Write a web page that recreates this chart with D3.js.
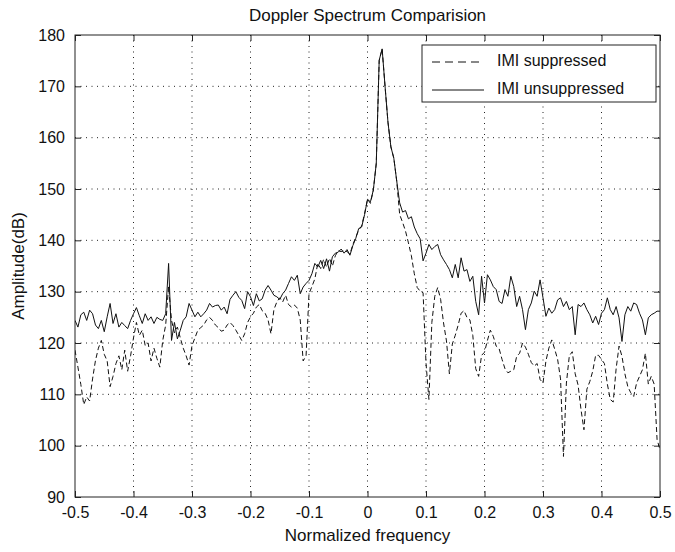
<!DOCTYPE html>
<html>
<head>
<meta charset="utf-8">
<script src="https://cdn.jsdelivr.net/npm/d3@7"></script>
<style>
  body { margin: 0; background: #fff; }
  svg { display: block; }
  text { font-family: "Liberation Sans", Arial, sans-serif; fill: #111; }
</style>
</head>
<body>
<div id="chart"></div>
<script>
var freqStart = -0.5, freqStep = 0.005;

var unsuppressed = [
  124.4,123.1,125.5,126.0,124.4,126.4,125.7,123.5,122.8,124.4,
  122.2,125.1,127.7,123.8,125.7,123.1,124.0,123.4,122.8,124.4,
  125.7,126.9,125.3,123.8,125.7,124.4,125.1,123.8,125.0,124.6,
  124.4,125.7,135.5,120.5,124.0,120.8,122.5,124.4,125.1,127.7,
  126.4,125.1,126.0,125.1,125.7,126.4,127.7,127.0,127.3,127.4,
  126.4,127.0,125.7,128.5,129.3,130.0,128.9,128.3,126.7,130.0,
  129.0,127.3,129.6,128.2,128.6,130.3,131.2,130.3,129.3,129.0,
  128.5,129.6,130.3,131.6,132.9,132.2,133.2,129.6,130.9,131.6,
  132.2,133.5,135.5,134.8,136.1,134.5,136.4,134.0,136.8,137.5,
  137.7,138.3,137.5,138.2,137.1,139.0,140.4,142.3,142.6,145.0,
  148.0,147.5,149.8,155.0,175.1,177.3,170.0,163.0,158.2,156.0,
  151.5,147.3,145.5,145.8,144.2,144.6,142.6,141.3,140.3,136.0,
  137.5,139.2,138.2,138.8,139.2,137.2,136.2,135.3,134.3,132.7,
  135.3,132.7,136.6,134.0,134.3,132.0,133.0,128.1,125.5,133.0,
  127.8,133.3,132.3,131.0,130.4,128.1,127.7,130.4,129.1,133.0,
  131.0,127.1,129.1,126.5,122.6,126.5,127.8,130.1,129.1,132.3,
  128.8,125.2,126.8,125.8,126.5,128.4,128.8,127.1,128.1,126.5,
  127.1,121.6,127.5,127.1,127.8,126.5,125.5,123.9,125.2,123.6,
  125.8,126.5,128.8,126.5,125.5,127.1,124.9,120.3,125.5,127.1,
  126.2,127.8,127.5,125.8,124.5,121.6,124.9,125.5,125.8,126.2,126.2
];

var suppressed = [
  118.6,115.3,111.9,108.0,109.5,108.7,113.0,116.6,119.0,120.5,
  117.8,116.5,111.5,113.5,116.0,117.5,114.8,118.6,114.5,117.5,
  121.0,124.0,121.5,122.5,119.5,120.0,116.5,119.0,117.0,115.3,
  120.5,123.5,131.0,124.4,122.0,123.1,121.0,119.0,117.5,115.7,
  119.5,121.0,122.5,123.0,123.5,124.5,125.0,124.4,123.5,123.0,
  122.3,122.5,123.5,124.0,123.4,122.5,121.5,120.5,121.8,124.0,
  125.1,125.8,127.0,127.5,126.3,125.8,124.5,121.8,126.5,128.0,
  128.8,128.0,129.3,127.5,127.0,127.4,126.8,124.5,116.5,117.5,
  129.6,131.0,132.5,135.5,134.5,136.3,134.8,136.5,135.0,137.0,
  138.0,137.8,138.0,137.8,137.3,139.2,140.6,142.0,142.8,145.2,
  148.0,147.2,149.8,155.0,175.0,177.3,170.0,163.0,158.2,156.0,
  151.5,145.0,143.5,141.8,139.5,137.0,133.5,130.8,130.1,129.8,
  116.1,109.0,124.0,129.1,130.8,128.5,123.9,120.4,114.0,119.8,
  121.5,123.5,125.8,126.3,125.0,124.5,121.5,115.0,113.5,117.6,
  118.2,120.5,122.5,121.3,119.4,118.9,116.8,115.0,114.2,114.5,
  114.8,117.4,118.0,120.0,119.2,117.8,116.2,115.5,116.0,112.9,
  112.2,116.5,119.0,120.6,118.8,116.8,113.0,97.9,112.2,117.5,
  118.3,114.0,111.8,107.0,103.1,111.0,112.5,114.5,117.6,117.6,
  116.8,116.0,112.0,109.0,108.5,115.0,119.4,117.4,114.0,111.5,
  110.3,109.6,112.2,113.5,114.8,118.0,112.0,113.5,112.0,101.2,99.2
];

var xTicks = [-0.5,-0.4,-0.3,-0.2,-0.1,0,0.1,0.2,0.3,0.4,0.5];
var xTickLabels = ["-0.5","-0.4","-0.3","-0.2","-0.1","0","0.1","0.2","0.3","0.4","0.5"];
var yTicks = [90,100,110,120,130,140,150,160,170,180];

var seriesNames = ["IMI suppressed", "IMI unsuppressed"];

// size / margins
var W = 675, H = 552;
var margin = {top: 35, right: 15, bottom: 55, left: 75};
var w = W - margin.left - margin.right,
    h = H - margin.top - margin.bottom;

var svg = d3.select("#chart").append("svg")
  .attr("width", W).attr("height", H);

var g = svg.append("g")
  .attr("transform", "translate(" + margin.left + "," + margin.top + ")");

var x = d3.scaleLinear().domain([-0.5, 0.5]).range([0, w]);
var y = d3.scaleLinear().domain([90, 180]).range([h, 0]);

// dotted grid
g.append("g").selectAll("line").data(xTicks.slice(1, -1))
  .enter().append("line")
  .attr("x1", function(d){ return x(d); }).attr("x2", function(d){ return x(d); })
  .attr("y1", 0).attr("y2", h)
  .attr("stroke", "#222").attr("stroke-width", 1)
  .attr("stroke-dasharray", "1,4.5");
g.append("g").selectAll("line").data(yTicks.slice(1, -1))
  .enter().append("line")
  .attr("x1", 0).attr("x2", w)
  .attr("y1", function(d){ return y(d); }).attr("y2", function(d){ return y(d); })
  .attr("stroke", "#222").attr("stroke-width", 1)
  .attr("stroke-dasharray", "1,4.5");

// the two spectra
g.append("clipPath").attr("id", "clip")
  .append("rect").attr("width", w).attr("height", h);

var line = d3.line()
  .x(function(d, i){ return x(freqStart + i * freqStep); })
  .y(function(d){ return y(d); });

var plot = g.append("g").attr("clip-path", "url(#clip)");
plot.append("path").datum(suppressed)
  .attr("d", line)
  .attr("fill", "none").attr("stroke", "#111").attr("stroke-width", 1)
  .attr("stroke-dasharray", "5,3");
plot.append("path").datum(unsuppressed)
  .attr("d", line)
  .attr("fill", "none").attr("stroke", "#111").attr("stroke-width", 1);

// axes: ticks pointing inward on all four sides
var tickLen = 6;
var xAxisB = d3.axisBottom(x).tickValues(xTicks).tickSizeInner(-tickLen).tickSizeOuter(0)
  .tickPadding(10).tickFormat(function(d, i){ return xTickLabels[i]; });
var xAxisT = d3.axisTop(x).tickValues(xTicks).tickSizeInner(-tickLen).tickSizeOuter(0).tickFormat("");
var yAxisL = d3.axisLeft(y).tickValues(yTicks).tickSizeInner(-tickLen).tickSizeOuter(0).tickPadding(10);
var yAxisR = d3.axisRight(y).tickValues(yTicks).tickSizeInner(-tickLen).tickSizeOuter(0).tickFormat("");

var axes = [
  g.append("g").attr("transform", "translate(0," + h + ")").call(xAxisB),
  g.append("g").call(xAxisT),
  g.append("g").call(yAxisL),
  g.append("g").attr("transform", "translate(" + w + ",0)").call(yAxisR)
];
axes.forEach(function(a){
  a.select(".domain").remove();
  a.selectAll("line").attr("stroke", "#222");
  a.selectAll("text").attr("font-size", 16).attr("fill", "#111")
    .style("font-family", "'Liberation Sans', Arial, sans-serif");
});

// box
g.append("rect").attr("width", w).attr("height", h)
  .attr("fill", "none").attr("stroke", "#222").attr("stroke-width", 1);

// labels
svg.append("text").attr("x", margin.left + w / 2).attr("y", 17)
  .attr("text-anchor", "middle").attr("dominant-baseline", "middle")
  .attr("font-size", 17).text("Doppler Spectrum Comparision");
svg.append("text").attr("x", margin.left + w / 2).attr("y", 537)
  .attr("text-anchor", "middle").attr("dominant-baseline", "middle")
  .attr("font-size", 17).text("Normalized frequency");
svg.append("text")
  .attr("transform", "translate(20," + (margin.top + h / 2) + ") rotate(-90)")
  .attr("text-anchor", "middle").attr("dominant-baseline", "middle")
  .attr("font-size", 17).text("Amplitude(dB)");

// legend
var legend = g.append("g").attr("transform", "translate(" + (422 - margin.left) + "," + (45 - margin.top) + ")");
legend.append("rect").attr("width", 234).attr("height", 57)
  .attr("fill", "#fff").attr("stroke", "#222").attr("stroke-width", 1);
var rows = legend.selectAll("g.row").data(seriesNames)
  .enter().append("g").attr("class", "row")
  .attr("transform", function(d, i){ return "translate(0," + (17 + i * 28) + ")"; });
rows.append("line")
  .attr("x1", 10).attr("x2", 62).attr("y1", 0).attr("y2", 0)
  .attr("stroke", "#111").attr("stroke-width", 1)
  .attr("stroke-dasharray", function(d, i){ return i === 0 ? "8,5" : null; });
rows.append("text").attr("x", 75).attr("y", 0)
  .attr("dominant-baseline", "middle").attr("font-size", 16)
  .text(function(d){ return d; });
</script>
</body>
</html>
